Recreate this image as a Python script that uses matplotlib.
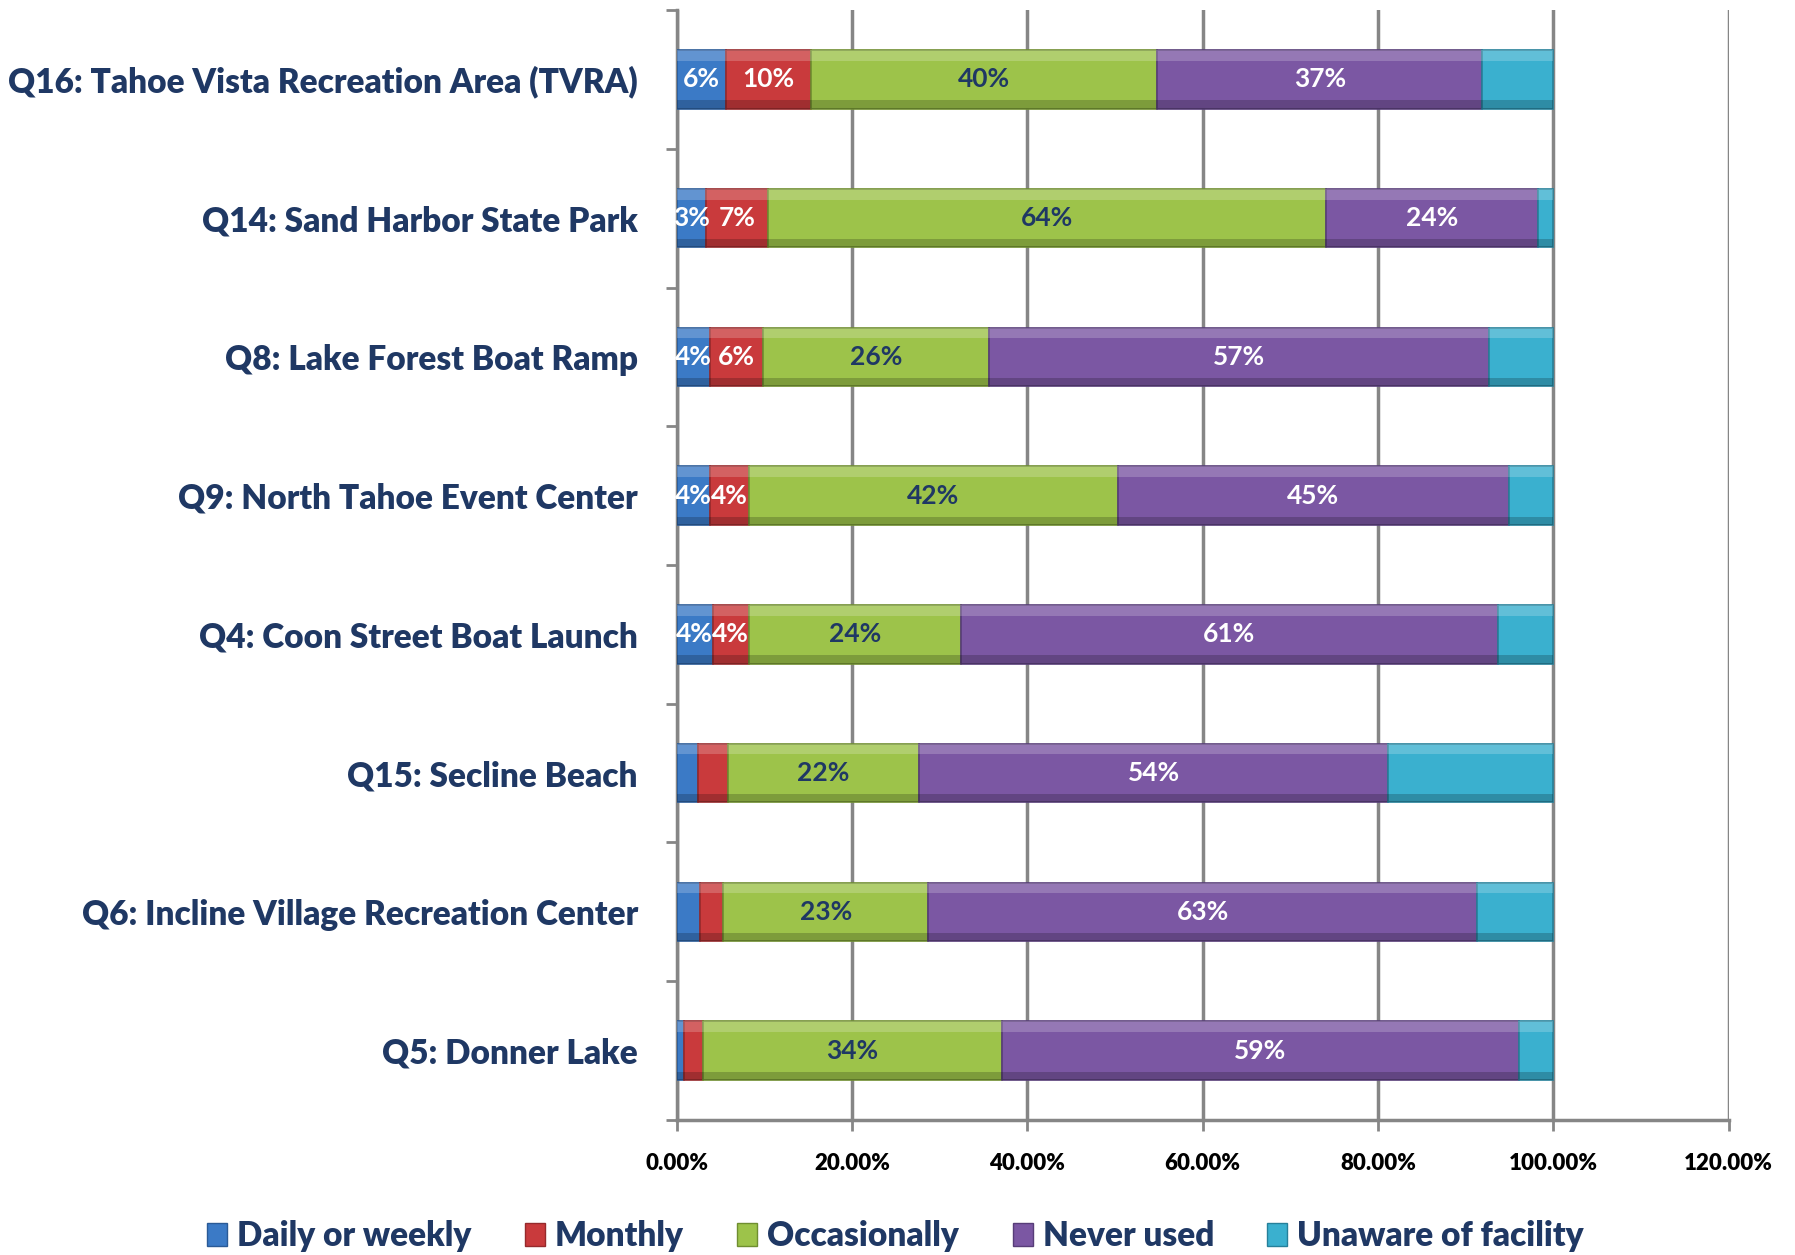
import numpy as np
import matplotlib
matplotlib.use("Agg")
import matplotlib.pyplot as plt
from matplotlib.patches import Patch

# Data (percent of respondents), top row first
categories = ["Q16: Tahoe Vista Recreation Area (TVRA)",
              "Q14: Sand Harbor State Park",
              "Q8: Lake Forest Boat Ramp",
              "Q9: North Tahoe Event Center",
              "Q4: Coon Street Boat Launch",
              "Q15: Secline Beach",
              "Q6: Incline Village Recreation Center",
              "Q5: Donner Lake"]

daily = [5.6, 3.3, 3.8, 3.8, 4.1, 2.4, 2.7, 0.8]
monthly = [9.7, 7.1, 6.0, 4.4, 4.1, 3.4, 2.6, 2.2]
occasionally = [39.5, 63.7, 25.8, 42.1, 24.2, 21.8, 23.4, 34.1]
never = [37.1, 24.2, 57.1, 44.6, 61.3, 53.6, 62.6, 59.0]
unaware = [8.1, 1.7, 7.3, 5.1, 6.3, 18.8, 8.7, 3.9]

series_names = ["Daily or weekly", "Monthly", "Occasionally", "Never used", "Unaware of facility"]
# which rows carry labels on the small (daily / monthly) segments
small_labels = [True, True, True, True, True, False, False, False]

xticks = [0, 20, 40, 60, 80, 100, 120]

# colours ---------------------------------------------------------
colors = ["#3B7AC6", "#C93A3C", "#9DC34A", "#7B57A3", "#3AB0CF"]
edges = ["#2A5A96", "#962A2C", "#6F8E30", "#573D78", "#26809A"]
label_colors = ["white", "white", "#1F3864", "white", None]
navy = "#1F3864"

plt.rcParams["font.family"] = ["Lato", "DejaVu Sans"]
plt.rcParams["font.weight"] = "bold"

fig = plt.figure(figsize=(17.95, 12.55), dpi=100)
ax = fig.add_axes([0.377, 0.1076, 0.586, 0.8844])

y = np.arange(len(categories))[::-1]
h = 0.42
data = [daily, monthly, occasionally, never, unaware]
left = np.zeros(len(categories))

for k, vals in enumerate(data):
    vals = np.array(vals)
    ax.barh(y, vals, left=left, height=h, color=colors[k], edgecolor=edges[k],
            linewidth=1.2, zorder=3)
    # simple bevel: light strip on top, dark strip at bottom
    ax.barh(y + h * 0.41, vals, left=left, height=h * 0.18, color="white",
            alpha=0.2, linewidth=0, zorder=4)
    ax.barh(y - h * 0.43, vals, left=left, height=h * 0.14, color="black",
            alpha=0.2, linewidth=0, zorder=4)
    if label_colors[k] is not None:
        for i, v in enumerate(vals):
            if k < 2 and not small_labels[i]:
                continue
            ax.text(left[i] + v / 2, y[i], f"{round(v):d}%", ha="center", va="center",
                    color=label_colors[k], fontsize=19, fontweight="bold", zorder=5)
    left = left + vals

ax.set_xlim(0, 120)
ax.set_ylim(-0.5, len(categories) - 0.5)
ax.set_xticks(xticks)
ax.set_xticklabels([f"{t:.2f}%" for t in xticks], fontsize=16, fontweight="heavy", color="black")
ax.set_yticks(y)
ax.set_yticklabels(categories, fontsize=24, fontweight="heavy", color=navy)
ax.tick_params(axis="y", length=0, pad=28)
ax.tick_params(axis="x", length=8, width=2, color="#868686", pad=16)

# minor ticks between categories on the y axis
ax.set_yticks(np.arange(-0.5, len(categories), 1), minor=True)
ax.tick_params(axis="y", which="minor", length=8, width=2, color="#868686")

ax.grid(axis="x", color="#868686", linewidth=2.5, zorder=0)
for s in ["top", "right"]:
    ax.spines[s].set_visible(False)
for s in ["left", "bottom"]:
    ax.spines[s].set_color("#868686")
    ax.spines[s].set_linewidth(2.5)

handles = [Patch(facecolor=colors[k], edgecolor=edges[k], label=series_names[k])
           for k in range(5)]
leg = fig.legend(handles=handles, loc="center", bbox_to_anchor=(0.499, 0.015), ncol=5,
                 frameon=False, fontsize=24, handlelength=0.6, handleheight=0.7,
                 handletextpad=0.3, columnspacing=1.6)
for t in leg.get_texts():
    t.set_color(navy)
    t.set_fontweight("heavy")

fig.savefig("out.png", dpi=100)
